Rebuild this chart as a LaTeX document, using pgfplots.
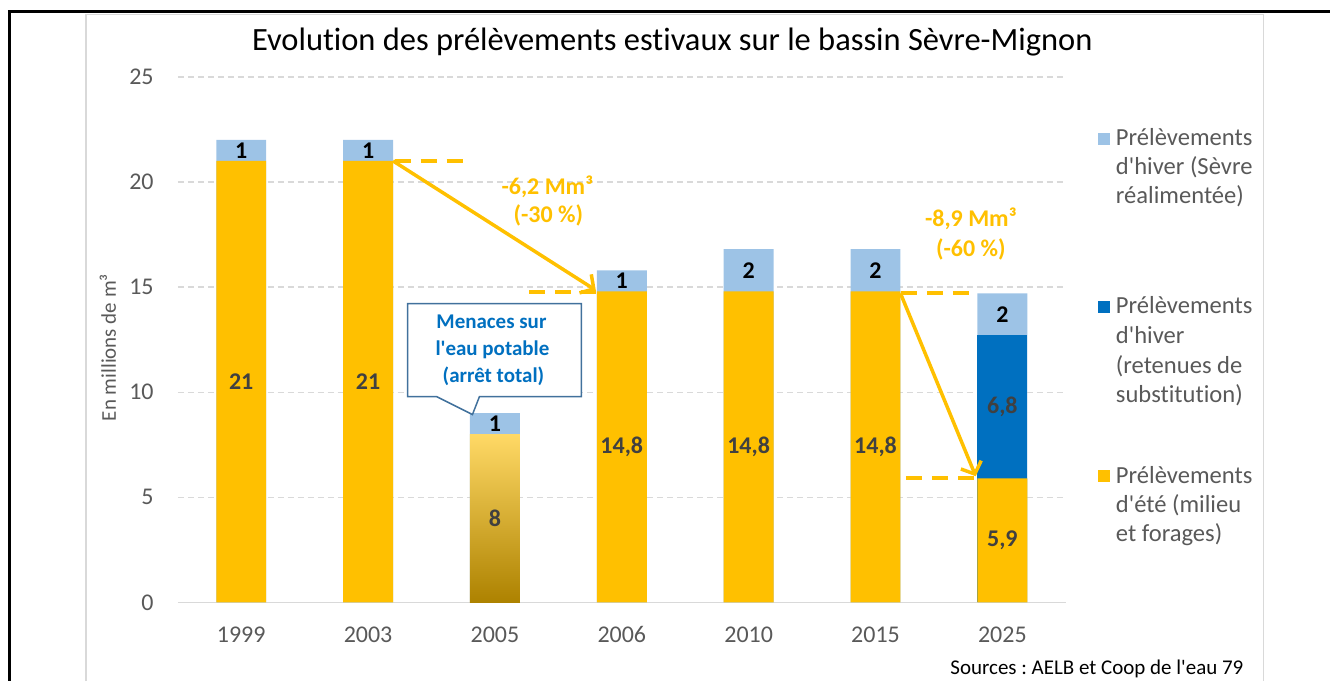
\documentclass[border=0pt]{standalone}
\usepackage{fontspec}
\setmainfont{Carlito}[Ligatures={TeXOff,NoCommon}]
\usepackage{pgfplots}
\pgfplotsset{compat=1.18}
\usetikzlibrary{arrows.meta}
\definecolor{ete}{HTML}{FFC000}
\definecolor{retenue}{HTML}{0070C0}
\definecolor{sevre}{HTML}{9DC3E6}
\definecolor{lab}{HTML}{404040}
\definecolor{tickc}{HTML}{595959}
\definecolor{gridc}{HTML}{D9D9D9}
\definecolor{callb}{HTML}{41719C}
\definecolor{gtop}{HTML}{FFD966}
\definecolor{gmid}{HTML}{EDB000}
\definecolor{gbot}{HTML}{AD8200}
\tikzset{px/.style={x=1pt,y=-1pt,shift={(-178pt,603pt)}}}
\newcommand{\fs}[1]{\fontsize{#1}{#1}\selectfont}
\frenchspacing
\begin{document}
\begin{tikzpicture}
\begin{scope}[px]
\path[use as bounding box] (0,0) rectangle (1331,682);
\end{scope}
\begin{axis}[
  scale only axis, width=889pt, height=526pt,
  xmin=-0.5, xmax=6.5, ymin=0, ymax=25,
  axis line style={draw=none},
  major tick length=0pt,
  xtick={0,1,2,3,4,5,6},
  xticklabels={1999,2003,2005,2006,2010,2015,2025},
  ytick={5,10,15,20,25},
  extra y ticks={0},
  extra y tick style={grid style={solid, draw=gridc, line width=1.5pt}},
  ymajorgrids,
  grid style={draw=gridc, line width=1.2pt, dash pattern=on 6pt off 4pt},
  /pgf/number format/assume math mode=true,
  tick label style={font=\fs{24}, color=tickc},
  yticklabel style={inner sep=0pt, xshift=-24pt},
  xticklabel style={inner sep=0pt, yshift=-24pt},
  ylabel={En millions de m³},
  every axis y label/.style={at={(axis description cs:-0.0787,0.4848)}, rotate=90, anchor=center, font=\fs{21}, color=tickc},
  title={Evolution des prélèvements estivaux sur le bassin Sèvre-Mignon},
  every axis title/.style={at={(axis description cs:0.5568,1.0494)}, anchor=base, font=\fs{32.5}, color=black},
  clip=false,
]
% totals (top of light-blue winter withdrawals)
\addplot[ybar, bar width=50pt, bar shift=0pt, fill=sevre, draw=none]
  coordinates {(0,22) (1,22) (2,9) (3,15.8) (4,16.8) (5,16.8) (6,14.7)};
% top of reservoir withdrawals
\addplot[ybar, bar width=50pt, bar shift=0pt, fill=retenue, draw=none]
  coordinates {(6,12.7)};
% summer withdrawals
\addplot[ybar, bar width=50pt, bar shift=0pt, fill=ete, draw=none]
  coordinates {(0,21) (1,21) (3,14.8) (4,14.8) (5,14.8) (6,5.9)};
% 2005 summer (gradient)
\addplot[ybar, bar width=50pt, bar shift=0pt, draw=none, top color=gtop, middle color=gmid, bottom color=gbot]
  coordinates {(2,8)};

% data labels
\begin{scope}[font=\bfseries\fs{24}]
\node[black] at (axis cs:0,21.5) {1};
\node[black] at (axis cs:1,21.5) {1};
\node[black] at (axis cs:2,8.5) {1};
\node[black] at (axis cs:3,15.3) {1};
\node[black] at (axis cs:4,15.8) {2};
\node[black] at (axis cs:5,15.8) {2};
\node[black] at (axis cs:6,13.7) {2};
\node[lab] at (axis cs:0,10.5) {21};
\node[lab] at (axis cs:1,10.5) {21};
\node[lab] at (axis cs:2,4) {8};
\node[lab] at (axis cs:3,7.4) {14,8};
\node[lab] at (axis cs:4,7.4) {14,8};
\node[lab] at (axis cs:5,7.4) {14,8};
\node[lab] at (axis cs:6,9.3) {6,8};
\node[lab] at (axis cs:6,2.95) {5,9};
\end{scope}

% annotation lines
\draw[ete, line width=4pt, dash pattern=on 16pt off 10pt] (axis cs:1.21,21) -- (axis cs:1.80,21);
\draw[ete, line width=4pt, dash pattern=on 16pt off 10pt] (axis cs:2.27,14.75) -- (axis cs:2.80,14.75);
\draw[ete, line width=4pt, dash pattern=on 16pt off 10pt] (axis cs:5.20,14.7) -- (axis cs:5.80,14.7);
\draw[ete, line width=4pt, dash pattern=on 16pt off 10pt] (axis cs:5.24,5.9) -- (axis cs:5.80,5.9);
\draw[ete, line width=3.5pt, -{Straight Barb[length=10pt,width=22pt]}] (axis cs:1.197,21) -- (axis cs:2.795,14.85);
\draw[ete, line width=3.5pt, -{Straight Barb[length=10pt,width=22pt]}] (axis cs:5.197,14.7) -- (axis cs:5.79,6.0);
\end{axis}

\begin{scope}[px]
% annotation texts
\node[ete, font=\bfseries\fs{24}, anchor=base] at (548,195) {-6,2 Mm³};
\node[ete, font=\bfseries\fs{24}, anchor=base] at (549,223) {(-30 \%)};
\node[ete, font=\bfseries\fs{24}, anchor=base] at (972,227) {-8,9 Mm³};
\node[ete, font=\bfseries\fs{24}, anchor=base] at (972,257) {(-60 \%)};
% callout
\draw[callb, fill=white, line width=1.5pt, line join=miter] (408,304) -- (582,304) -- (582,397) -- (480,397) -- (473,415) -- (437,397) -- (408,397) -- cycle;
\begin{scope}[font=\bfseries\fs{21}, text=retenue]
\node[anchor=base] at (492,329) {Menaces sur};
\node[anchor=base] at (493,356) {l'eau potable};
\node[anchor=base] at (494,383) {(arrêt total)};
\end{scope}
% legend
\fill[sevre] (1099,133) rectangle (1111,145);
\fill[retenue] (1099,301) rectangle (1111,313);
\fill[ete] (1099,471) rectangle (1111,483);
\begin{scope}[font=\fs{24.6}, text=tickc]
\node[anchor=base west, inner sep=0pt] at (1117,146) {Prélèvements};
\node[anchor=base west, inner sep=0pt] at (1117,175) {d'hiver (Sèvre};
\node[anchor=base west, inner sep=0pt] at (1117,204) {réalimentée)};
\node[anchor=base west, inner sep=0pt] at (1117,314) {Prélèvements};
\node[anchor=base west, inner sep=0pt] at (1117,344) {d'hiver};
\node[anchor=base west, inner sep=0pt] at (1117,374) {(retenues de};
\node[anchor=base west, inner sep=0pt] at (1117,403) {substitution)};
\node[anchor=base west, inner sep=0pt] at (1117,484) {Prélèvements};
\node[anchor=base west, inner sep=0pt] at (1117,513) {d'été (milieu};
\node[anchor=base west, inner sep=0pt] at (1117,542) {et forages)};
\end{scope}
% source
\node[anchor=base east, inner sep=0pt, font=\fs{21}] at (1245,675) {Sources : AELB et Coop de l'eau 79};
% frames
\draw[gridc, line width=1.5pt] (86,682) -- (86,14.5) -- (1265,14.5) -- (1265,682);
\draw[black, line width=3pt] (8,12) -- (1331,12);
\draw[black, line width=2.5pt] (9.5,10.5) -- (9.5,682);
\end{scope}
\end{tikzpicture}
\end{document}
